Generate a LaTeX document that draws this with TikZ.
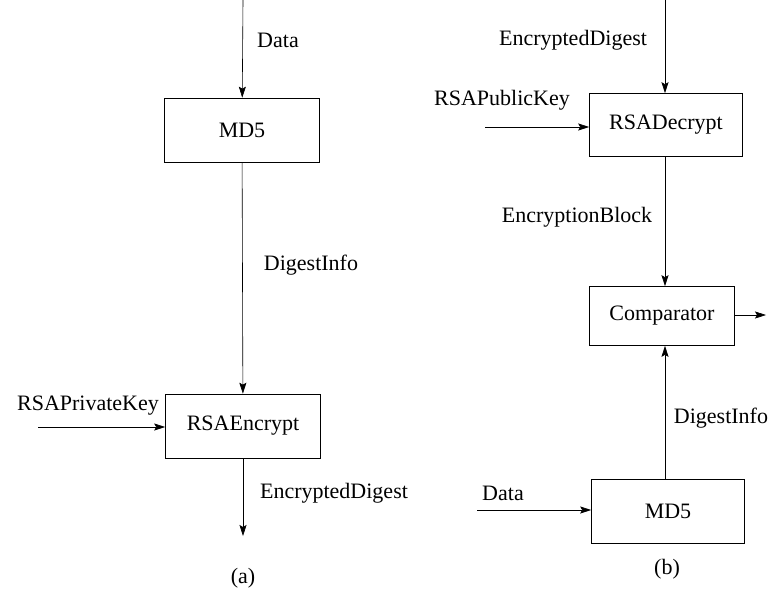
\documentclass[tikz,border=0pt]{standalone}
\usepackage{fontspec}
\setmainfont{Liberation Serif}
\usetikzlibrary{arrows.meta}

\begin{document}
\begin{tikzpicture}[x=1pt,y=-1pt,font=\fontsize{22}{26}\selectfont,
	blk/.style={draw,line width=0.6pt,minimum width=155pt,minimum height=64pt,inner sep=0pt},
	flow/.style={line width=0.6pt,-{Stealth[length=11pt,width=7pt,inset=2pt]}}]
	\useasboundingbox (0,0) rectangle (774,590);
	% (a)
	\node[blk] (md5a) at (242,130) {MD5};
	\node[blk] (enc) at (243,426) {RSAEncrypt};
	\coordinate (dataa) at (243,0);
	\coordinate (priv) at (38,427);
	\coordinate (outa) at (243,536);
	\node (ldataa) at (278,40) {Data};
	\node (ldiga) at (311,265) {DigestInfo};
	\node (lpriv) at (88,406) {RSAPrivateKey};
	\node (lenca) at (334,493) {EncryptedDigest};
	\node (capa) at (243,578) {(a)};
	\draw[flow] (dataa) -- (md5a);
	\draw[flow] (md5a) -- (enc);
	\draw[flow] (priv) -- (priv-|enc.west);
	\draw[flow] (enc) -- (outa);
	% (b)
	\node[blk,minimum width=153pt,minimum height=63pt] (dec) at (666,125) {RSADecrypt};
	\node[blk,minimum width=145pt,minimum height=59pt] (cmp) at (662,316) {Comparator};
	\node[blk,minimum width=153pt] (md5b) at (668,511) {MD5};
	\coordinate (encin) at (665,0);
	\coordinate (pub) at (485,127);
	\coordinate (datab) at (477,510);
	\coordinate (outb) at (766,315);
	\node (lencb) at (573,40) {EncryptedDigest};
	\node (lpub) at (502,100) {RSAPublicKey};
	\node (lblock) at (577,217) {EncryptionBlock};
	\node (ldigb) at (721,418) {DigestInfo};
	\node (ldatab) at (503,493) {Data};
	\node (capb) at (667,569) {(b)};
	\draw[flow] (encin) -- (encin|-dec.north);
	\draw[flow] (pub) -- (pub-|dec.west);
	\draw[flow] (encin|-dec.south) -- (encin|-cmp.north);
	\draw[flow] (encin|-md5b.north) -- (encin|-cmp.south);
	\draw[flow] (datab) -- (datab-|md5b.west);
	\draw[flow] (cmp.east|-outb) -- (outb);
\end{tikzpicture}
\end{document}
